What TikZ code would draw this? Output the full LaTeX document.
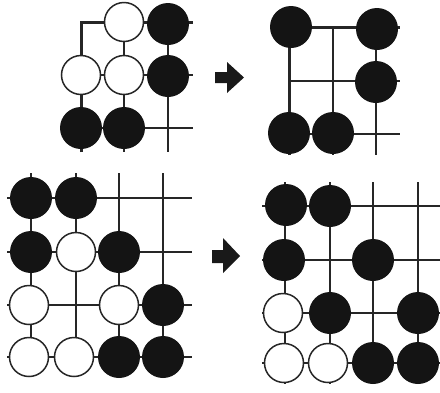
\documentclass[tikz,border=0pt]{standalone}
\begin{document}
\begin{tikzpicture}[x=1pt,y=-1pt,
  grid/.style={line width=1.6pt,black!85},
  edge/.style={line width=3pt,black!85},
  bstone/.style={circle,fill=black!92,minimum size=42pt,inner sep=0pt},
  wstone/.style={circle,draw=black!85,fill=white,line width=1.5pt,minimum size=39pt,inner sep=0pt},
  blockarrow/.style={fill=black!90}]
\useasboundingbox (0,0) rectangle (440,392);
\fill[white] (0,0) rectangle (440,392);
% ---------- Board A (top left)
\draw[edge] (81,152) -- (81,22) -- (193,22);
\foreach \x in {124,168} \draw[grid] (\x,22) -- (\x,152);
\foreach \y in {75,128} \draw[grid] (81,\y) -- (193,\y);
\node[wstone] (a21) at (124,22) {};
\node[bstone] (a31) at (168,24) {};
\node[wstone] (a12) at (81,75) {};
\node[wstone] (a22) at (124,75) {};
\node[bstone] (a32) at (168,76) {};
\node[bstone] (a13) at (81,128) {};
\node[bstone] (a23) at (124,128) {};
% ---------- Arrow 1
\fill[blockarrow] (215,72) -- (227,72) -- (227,62) -- (244,77.5) -- (227,93) -- (227,83) -- (215,83) -- cycle;
% ---------- Board B (top right)
\draw[edge] (289,155) -- (289,27) -- (400,27);
\foreach \x in {333,376} \draw[grid] (\x,27) -- (\x,155);
\foreach \y in {81,134} \draw[grid] (289,\y) -- (400,\y);
\node[bstone] (b11) at (291,27) {};
\node[bstone] (b31) at (377,29) {};
\node[bstone] (b32) at (376,82) {};
\node[bstone] (b13) at (289,133) {};
\node[bstone] (b23) at (333,133) {};
% ---------- Board C (bottom left)
\foreach \x in {31,76,119,163} \draw[grid] (\x,173) -- (\x,377);
\foreach \y in {198,252,305,357} \draw[grid] (7,\y) -- (192,\y);
\node[bstone] (c11) at (31,198) {};
\node[bstone] (c21) at (76,198) {};
\node[bstone] (c12) at (31,252) {};
\node[wstone] (c22) at (76,252) {};
\node[bstone] (c32) at (119,252) {};
\node[wstone] (c13) at (29,305) {};
\node[wstone] (c33) at (119,305) {};
\node[bstone] (c43) at (163,305) {};
\node[wstone] (c14) at (29,357) {};
\node[wstone] (c24) at (74,357) {};
\node[bstone] (c34) at (119,357) {};
\node[bstone] (c44) at (163,357) {};
% ---------- Arrow 2
\fill[blockarrow] (212,250) -- (223,250) -- (223,238) -- (240,256) -- (223,273) -- (223,263) -- (212,263) -- cycle;
% ---------- Board D (bottom right)
\foreach \x in {285,330,373,418} \draw[grid] (\x,182) -- (\x,384);
\foreach \y in {206,260,313,363} \draw[grid] (262,\y) -- (440,\y);
\node[bstone] (d11) at (286,205) {};
\node[bstone] (d21) at (330,206) {};
\node[bstone] (d12) at (284,260) {};
\node[bstone] (d32) at (373,260) {};
\node[wstone] (d13) at (283,313) {};
\node[bstone] (d23) at (330,313) {};
\node[bstone] (d43) at (418,313) {};
\node[wstone] (d14) at (284,363) {};
\node[wstone] (d24) at (328,363) {};
\node[bstone] (d34) at (373,363) {};
\node[bstone] (d44) at (418,363) {};
\end{tikzpicture}
\end{document}
